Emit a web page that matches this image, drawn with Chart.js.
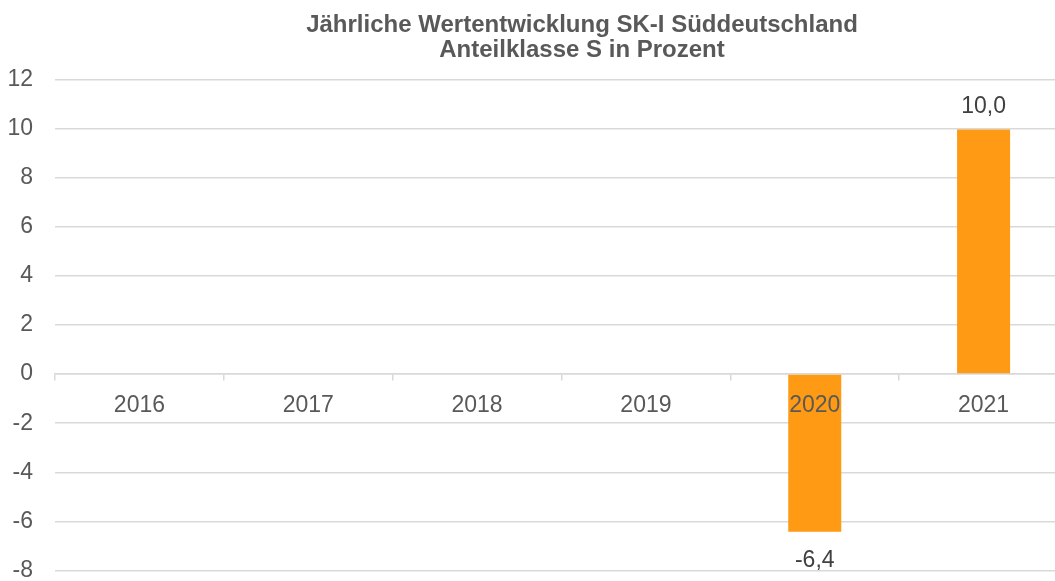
<!DOCTYPE html>
<html>
<head>
<meta charset="utf-8">
<script src="https://cdn.jsdelivr.net/npm/chart.js@4/dist/chart.umd.min.js"></script>
<style>
  html, body { margin: 0; padding: 0; background: #ffffff; overflow: hidden; }
  #wrap { position: relative; width: 1068px; height: 581px; }
</style>
</head>
<body>
<div id="wrap"><canvas id="perfChart" width="1068" height="581"></canvas></div>
<script>
// Chart data
const years = ["2016", "2017", "2018", "2019", "2020", "2021"];
const returns = [null, null, null, null, -6.42, 9.96];
const titleLines = ["Jährliche Wertentwicklung SK-I Süddeutschland", "Anteilklasse S in Prozent"];
const yMin = -8, yMax = 12, yStep = 2;

const FONT = "'Liberation Sans', Arial, sans-serif";
const GREY = "#595959";
const GRID = "#d9d9d9";

// Title drawn centred over the plot like in the source sheet
const titlePlugin = {
    id: "sheetTitle",
    afterDraw(chart) {
        const ctx = chart.ctx;
        ctx.save();
        ctx.font = "bold 24px " + FONT;
        ctx.fillStyle = GREY;
        ctx.textAlign = "center";
        ctx.textBaseline = "alphabetic";
        ctx.fillText(titleLines[0], 582, 32);
        ctx.fillText(titleLines[1], 582, 57);
        ctx.restore();
    }
};

// Value labels above / below bars, German decimal comma
const valueLabels = {
    id: "valueLabels",
    afterDatasetsDraw(chart) {
        const ctx = chart.ctx;
        const meta = chart.getDatasetMeta(0);
        ctx.save();
        ctx.font = "23px " + FONT;
        ctx.fillStyle = "#404040";
        ctx.textAlign = "center";
        ctx.textBaseline = "alphabetic";
        meta.data.forEach((bar, i) => {
            const v = returns[i];
            if (v === null) return;
            const txt = v.toFixed(1).replace(".", ",");
            if (v >= 0) ctx.fillText(txt, bar.x, bar.y - 17);
            else ctx.fillText(txt, bar.x, bar.y + 35);
        });
        ctx.restore();
    }
};

new Chart(document.getElementById("perfChart"), {
    type: "bar",
    data: {
        labels: years,
        datasets: [{
            data: returns,
            backgroundColor: "#fe9a13",
            borderWidth: 0,
            categoryPercentage: 1,
            barPercentage: 0.314
        }]
    },
    options: {
        responsive: false,
        animation: false,
        layout: { padding: { top: 79.5, bottom: 10.5, left: 0, right: 0 } },
        plugins: { legend: { display: false }, title: { display: false }, tooltip: { enabled: false } },
        scales: {
            x: {
                position: { y: 0 },
                offset: true,
                border: { display: true, color: GRID, width: 1.5 },
                grid: { drawOnChartArea: false, drawTicks: true, tickLength: 6, offset: true, color: GRID, lineWidth: 1.5 },
                ticks: { z: 1, color: GREY, padding: 12, font: { family: FONT, size: 23 }, maxRotation: 0 }
            },
            y: {
                min: yMin,
                max: yMax,
                afterFit(scale) {
                    // fixed axis width, no extra label padding at the ends
                    scale.width = 55;
                    scale.paddingTop = 0;
                    scale.paddingBottom = 0;
                },
                border: { display: false },
                grid: { color: GRID, lineWidth: 1.5, drawTicks: false },
                ticks: { stepSize: yStep, color: GREY, padding: 22, font: { family: FONT, size: 23 } }
            }
        }
    },
    plugins: [titlePlugin, valueLabels]
});
</script>
</body>
</html>
